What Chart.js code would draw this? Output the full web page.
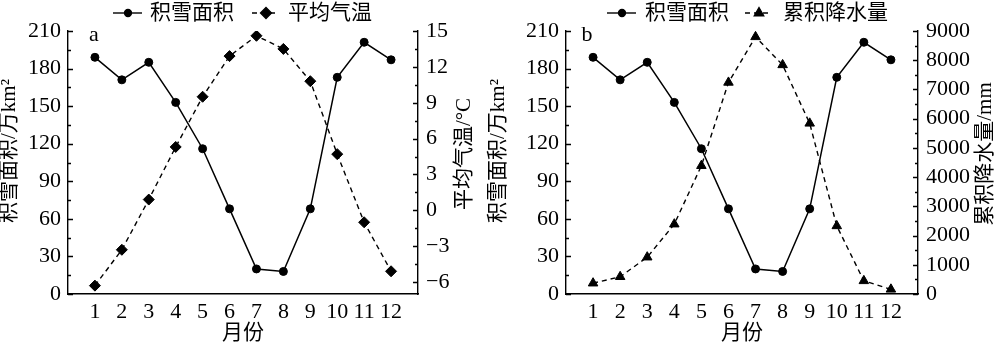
<!DOCTYPE html>
<html>
<head>
<meta charset="utf-8">
<script src="https://cdn.jsdelivr.net/npm/chart.js@4.4.1/dist/chart.umd.min.js"></script>
<style>
  body { margin: 0; background: #fff; }
  .wrap { position: relative; width: 1000px; height: 347px; }
  canvas { position: absolute; top: 0; }
</style>
</head>
<body>
<div class="wrap">
  <canvas id="chartA" width="484" height="347" style="left:0"></canvas>
  <canvas id="chartB" width="516" height="347" style="left:484px"></canvas>
</div>
<script>
const months = [1, 2, 3, 4, 5, 6, 7, 8, 9, 10, 11, 12];
// 积雪面积 (万km²)
const snowArea = [189, 171, 185, 153, 116, 68, 20, 18, 68, 173, 201, 187];
// 平均气温 (°C)
const meanTemp = [-6.3, -3.3, 0.9, 5.3, 9.5, 12.9, 14.6, 13.5, 10.8, 4.7, -1.0, -5.1];
// 累积降水量 (mm)
const cumPrecip = [370, 590, 1260, 2390, 4390, 7240, 8800, 7840, 5840, 2330, 450, 160];

const areaTicks = [0, 30, 60, 90, 120, 150, 180, 210];
const tempTicks = [-6, -3, 0, 3, 6, 9, 12, 15];
const precipTicks = [0, 1000, 2000, 3000, 4000, 5000, 6000, 7000, 8000, 9000];

const SERIF = '"Liberation Serif", "Times New Roman", serif';
const MIXED = '"Liberation Serif", "Noto Sans CJK SC", serif';
const INK = '#000';

function fixedTicks(values) {
  return scale => { scale.ticks = values.map(v => ({ value: v })); };
}

function yAxis(position, min, max, values, width, pad) {
  return {
    type: 'linear',
    position: position,
    min: min,
    max: max,
    afterBuildTicks: fixedTicks(values),
    afterFit: s => { s.width = width; },
    grid: { display: false, drawTicks: false },
    border: { display: true, color: INK, width: 1.4 },
    ticks: {
      autoSkip: false,
      padding: pad,
      color: INK,
      font: { family: SERIF, size: 22 },
      callback: v => String(v).replace('-', '\u2212')
    }
  };
}

// inward major/minor tick marks on the y axes
function drawInnerTicks(ctx, scale) {
  const left = scale.position === 'left';
  const x = left ? scale.right : scale.left;
  const dir = left ? 1 : -1;
  const vals = scale.ticks.map(t => t.value);
  ctx.beginPath();
  vals.forEach((v, i) => {
    const y = Math.round(scale.getPixelForValue(v)) + 0.5;
    ctx.moveTo(x, y);
    ctx.lineTo(x + dir * 5, y);
    if (i > 0) {
      const ym = Math.round(scale.getPixelForValue((v + vals[i - 1]) / 2)) + 0.5;
      ctx.moveTo(x, ym);
      ctx.lineTo(x + dir * 3, ym);
    }
  });
  ctx.stroke();
}

function drawVertical(ctx, text, x, y) {
  ctx.save();
  ctx.translate(x, y);
  ctx.rotate(-Math.PI / 2);
  ctx.textAlign = 'center';
  ctx.textBaseline = 'middle';
  ctx.fillText(text, 0, 0);
  ctx.restore();
}

const decor = {
  id: 'decor',
  afterDraw(chart, args, opts) {
    const ctx = chart.ctx;
    const area = chart.chartArea;
    ctx.save();
    ctx.strokeStyle = INK;
    ctx.fillStyle = INK;
    ctx.lineWidth = 1.3;
    drawInnerTicks(ctx, chart.scales.y);
    drawInnerTicks(ctx, chart.scales.y2);

    ctx.font = '21px ' + MIXED;
    drawVertical(ctx, opts.leftTitle, opts.leftX, 151);
    drawVertical(ctx, opts.rightTitle, opts.rightX, 154);
    ctx.textAlign = 'center';
    ctx.textBaseline = 'middle';
    ctx.fillText('月份', (area.left + area.right) / 2, 333);

    ctx.font = '22px ' + SERIF;
    ctx.fillText(opts.letter, opts.letterX, 35);

    // legend
    opts.legend.forEach(item => {
      ctx.save();
      ctx.lineWidth = 1.4;
      ctx.setLineDash(item.dash);
      ctx.beginPath();
      ctx.moveTo(item.x0, 13);
      ctx.lineTo(item.x1, 13);
      ctx.stroke();
      ctx.restore();
      Chart.helpers.drawPoint(ctx, { pointStyle: item.style, radius: item.r, borderWidth: 1 }, item.mx, 13);
      ctx.font = '21px ' + MIXED;
      ctx.textAlign = 'left';
      ctx.textBaseline = 'middle';
      ctx.fillText(item.text, item.tx, 13);
    });
    ctx.restore();
  }
};

function makeChart(id, series, cfg) {
  return new Chart(document.getElementById(id), {
    type: 'line',
    data: {
      datasets: [
        {
          label: '积雪面积',
          data: months.map((m, i) => ({ x: m, y: snowArea[i] })),
          yAxisID: 'y',
          borderColor: INK,
          backgroundColor: INK,
          borderWidth: 1.5,
          pointStyle: 'circle',
          pointRadius: 4,
          pointBorderWidth: 1
        },
        {
          label: series.label,
          data: months.map((m, i) => ({ x: m, y: series.values[i] })),
          yAxisID: 'y2',
          borderColor: INK,
          backgroundColor: INK,
          borderWidth: 1.4,
          borderDash: [5, 4],
          pointStyle: series.style,
          pointRadius: 5.5,
          pointBorderWidth: 1
        }
      ]
    },
    options: {
      responsive: false,
      animation: false,
      layout: { padding: { top: 31, left: 0, right: 0, bottom: 0 } },
      scales: {
        x: {
          type: 'linear',
          min: 0,
          max: 13,
          afterBuildTicks: fixedTicks(months),
          afterFit: s => { s.height = 53; },
          grid: { display: false, drawTicks: false },
          border: { display: true, color: INK, width: 1.4 },
          ticks: { autoSkip: false, padding: 5, color: INK, font: { family: SERIF, size: 22 } }
        },
        y: yAxis('left', 0, 210, areaTicks, cfg.leftW, 7),
        y2: yAxis('right', series.min, series.max, series.ticks, cfg.rightW, 8)
      },
      plugins: {
        legend: { display: false },
        tooltip: { enabled: false },
        decor: cfg.decor
      }
    },
    plugins: [decor]
  });
}

function drawAll() {
  makeChart('chartA',
    { label: '平均气温', values: meanTemp, style: 'rectRot', min: -7, max: 15, ticks: tempTicks },
    {
      leftW: 68, rightW: 66,
      decor: {
        letter: 'a', letterX: 94,
        leftTitle: '积雪面积/万km²', leftX: 9,
        rightTitle: '平均气温/°C', rightX: 464,
        legend: [
          { x0: 113, x1: 142, dash: [], style: 'circle', r: 3.5, mx: 128, text: '积雪面积', tx: 150 },
          { x0: 252, x1: 277, dash: [5, 4], style: 'rectRot', r: 5.5, mx: 266, text: '平均气温', tx: 288 }
        ]
      }
    });

  makeChart('chartB',
    { label: '累积降水量', values: cumPrecip, style: 'triangle', min: 0, max: 9000, ticks: precipTicks },
    {
      leftW: 82, rightW: 82,
      decor: {
        letter: 'b', letterX: 103,
        leftTitle: '积雪面积/万km²', leftX: 14,
        rightTitle: '累积降水量/mm', rightX: 501,
        legend: [
          { x0: 123, x1: 152, dash: [], style: 'circle', r: 3.5, mx: 138, text: '积雪面积', tx: 161 },
          { x0: 261, x1: 285, dash: [5, 4], style: 'triangle', r: 5.5, mx: 275, text: '累积降水量', tx: 299 }
        ]
      }
    });
}

Promise.all([
  document.fonts.load('22px "Liberation Serif"'),
  document.fonts.load('21px "Noto Sans CJK SC"', '积雪面积')
]).then(drawAll, drawAll);
</script>
</body>
</html>
